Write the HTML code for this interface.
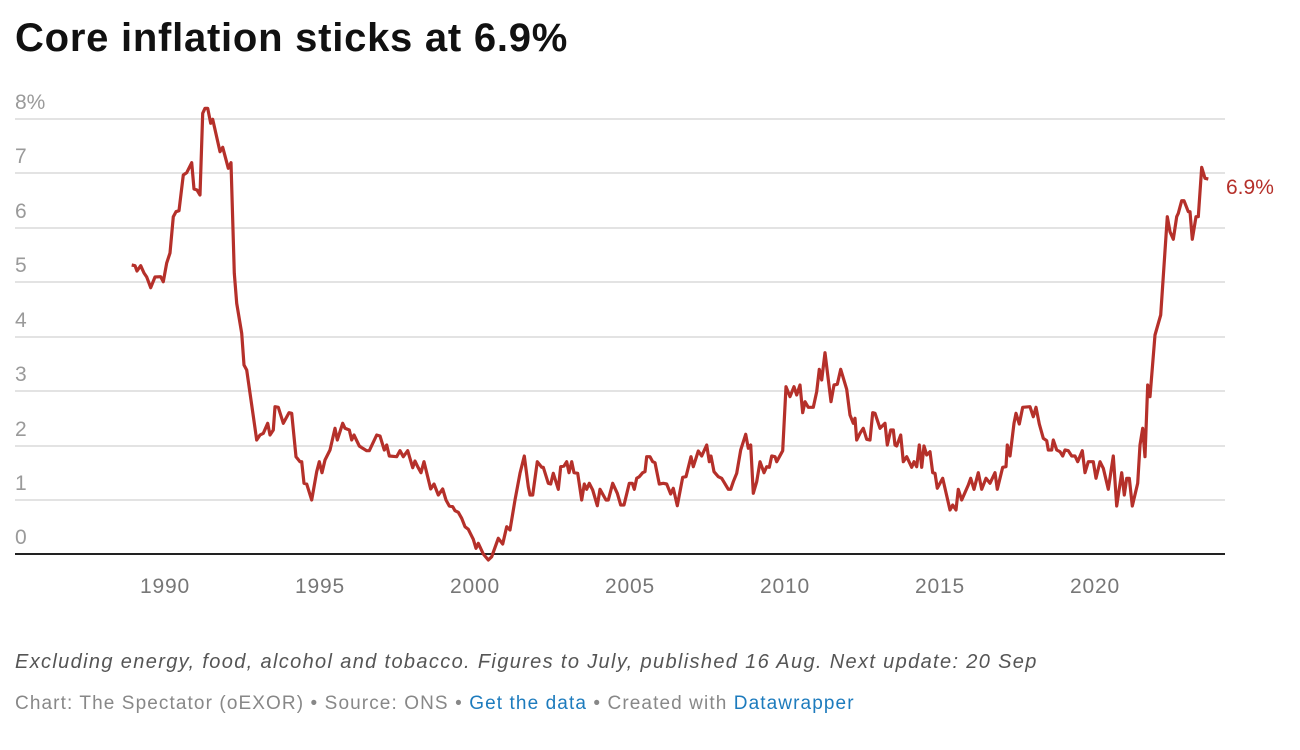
<!DOCTYPE html>
<html><head><meta charset="utf-8"><style>
body{margin:0;background:#fff;width:1300px;height:750px;overflow:hidden;font-family:"Liberation Sans",sans-serif;position:relative}
.t{position:absolute;left:15px;top:16px;font-size:40px;font-weight:bold;color:#111;letter-spacing:0.75px}
.n{position:absolute;left:15px;top:651px;font-size:20px;font-style:italic;color:#555;letter-spacing:1.35px;white-space:nowrap}
.s{position:absolute;left:15px;top:693px;font-size:19px;color:#888;letter-spacing:1.1px;white-space:nowrap}
.s a{color:#1d7bbd;text-decoration:none}
</style></head><body>
<div class="t">Core inflation sticks at 6.9%</div>
<svg width="1300" height="750" style="position:absolute;left:0;top:0">
<g stroke="#e3e3e3" stroke-width="2">
<line x1="15" x2="1225" y1="119" y2="119"/><line x1="15" x2="1225" y1="173" y2="173"/>
<line x1="15" x2="1225" y1="228" y2="228"/><line x1="15" x2="1225" y1="282" y2="282"/>
<line x1="15" x2="1225" y1="337" y2="337"/><line x1="15" x2="1225" y1="391" y2="391"/>
<line x1="15" x2="1225" y1="446" y2="446"/><line x1="15" x2="1225" y1="500" y2="500"/>
</g>
<line x1="15" x2="1225" y1="554" y2="554" stroke="#222" stroke-width="2"/>
<g font-size="21" fill="#9a9a9a">
<text x="15" y="109">8%</text><text x="15" y="163">7</text><text x="15" y="218">6</text>
<text x="15" y="272">5</text><text x="15" y="327">4</text><text x="15" y="381">3</text>
<text x="15" y="436">2</text><text x="15" y="490">1</text><text x="15" y="544">0</text>
</g>
<g font-size="21" fill="#777" text-anchor="middle" letter-spacing="0.8">
<text x="165" y="593">1990</text><text x="320" y="593">1995</text><text x="475" y="593">2000</text>
<text x="630" y="593">2005</text><text x="785" y="593">2010</text><text x="940" y="593">2015</text>
<text x="1095" y="593">2020</text>
</g>
<polyline fill="none" stroke="#b5302a" stroke-width="3.2" stroke-linejoin="round" points="
131.7,265 135,265.7 137,271 140.7,265.7 144,273 146.7,277 150.7,287.7 155,277 160.7,276.7 163.3,281.7 166.7,263 170,253 173.3,216.7 176,211.7 179,210.7 183.3,175 186.7,172.7 191.7,162.7 194,189 197,190 200,195 202.7,113.3 205,108.3 207.7,108.3 210.7,123.3 212.7,119.3 220,151.7 222.7,147.3 228.3,168.3 231,162.7 234.3,273.3 236.7,303.3 241.7,333.3 244,365 246.7,370 256.7,440 260,435 263.3,433.3 267.7,423.3 270,435 273.3,430 275,406.7 278.3,407.3 283.3,423.3 289,412.7 291.7,413.3 296,456.7 300,461.7 301.7,461.7 304,483.3 306.7,484 311.7,500 316.7,471.7 319.3,461.7 322,472.7 325,460 330,450 335,428.3 337.3,440 342.7,423.3 345,428.3 349.3,430 351.7,440 354,435 359.3,446 362.7,448.3 366.7,450.7 369.3,450.7 376.7,435 380,436 384.3,450 386.7,445 389.3,456 396.7,456.7 400,450.7 403.3,456.7 407.7,450.7 412.7,467.7 415,461 417.7,466.7 421,472.7 424,461.7 430.7,489 434,484 438.3,495 442.7,489 446,500 449.3,506 452.7,506.7 455,510.7 458.3,512.3 461.7,518.3 465,526.7 468.3,529.3 473.3,539.3 476,548.3 478.3,543.3 483.3,554 488.3,560 491.7,556.7 498.3,538.3 502.7,544 506.7,526.7 510,530 515,500 520,473.3 524.3,456 528.3,486.7 530,495 532.7,495 537.3,461.7 541.7,467.3 543.3,467.3 548.3,483.3 550.7,484 553.3,473.3 558.3,489.3 560.7,466.7 564,466 566.7,461.7 569,472.7 571.7,461.7 574,472.7 577.7,473.3 581.7,500 584.3,484 586.7,489.3 589.3,483.3 592.7,490 597.3,505.7 600,489.3 606,500 608.3,500 612.7,483.3 617.3,493.3 620.7,505 624,505 629.3,483.3 632.3,483.3 634.3,489.3 636.7,478.3 639.3,476.7 642.7,472.7 645,471.7 646.7,456.7 650,456.7 652.7,461.7 655,462.7 659.3,484 663.3,483.3 666.7,484 670.7,494 673.3,488.3 677.3,505.7 682.7,477.3 686,476.7 691,456.7 693.3,466.7 698.3,451 701.7,456 706.7,445 709.3,461.7 711,456 714,471.7 718.3,476.7 721.7,478.3 728.3,489.3 730.7,489.3 733.3,481.7 736.7,473.3 740.7,450 745.7,434.3 748.3,448.3 750.7,445 753.3,493.3 756.7,481.7 760,461.7 764,472.7 766.7,466.7 769.3,467.3 771.7,456 775,456.7 776.7,461.7 782.7,450.7 786,386.7 790,396.7 794,386.7 796.7,395 800,385 802.7,412.7 805,401.7 808.3,407.3 813.3,407.3 816.7,391.7 819.3,369.3 821.7,380 825,352.7 831,401.7 834,385 837.3,384.3 840.7,369.3 846.7,389.3 850,415 853.3,423.3 855,418.3 856.7,440 860,433.3 863.3,428.3 866.7,439.3 870,440 872.7,412.7 875,413.3 880,428.3 885,423.3 887.3,445 890.7,430 893.3,430 895,445 896.7,446 900.7,435 903.3,461.7 906.7,456.7 911.7,467.3 914,461.7 916.7,466.7 919.3,445 921.7,467.3 924,446 926.7,455 930,451.7 932.7,472.7 935,473.3 937.3,488.3 942.7,478.3 950,510 952.7,505 956,510 958.3,489.3 961.7,500 968.3,485 970.7,478.3 974,489.3 978.3,472.7 981.7,489.3 986,478.3 990,483.3 995,472.7 997.3,489.3 1002.7,467.3 1006,466.7 1007.3,445 1010,456 1014,423.3 1016,413.3 1019.3,424 1022.7,407.3 1030,406.7 1033.3,416.7 1036,407.3 1039.3,424 1043.3,438.3 1046.7,440.7 1048.3,450 1051.7,450 1053.3,440 1056.7,450 1060,451.7 1062.7,456 1065,450 1068.3,450.7 1071.7,456 1075,456 1077.7,461.7 1082.3,450.7 1085,472.7 1088.3,461.7 1093.3,461.7 1096,478.3 1100,461.7 1103.3,468.3 1108.3,489.3 1113.3,456 1116.7,506 1121.7,472.7 1124.3,495 1126.7,478.3 1129.3,478.3 1132.3,506 1137.7,483.3 1140,445 1142.7,428.3 1145,456.7 1147.7,385 1150,396.7 1155,335 1160.7,315 1167.3,216.7 1170,231.7 1173.3,239.3 1176.7,216.7 1178.3,213.3 1181.7,200.7 1184,200.7 1188.3,211.7 1190,211.7 1192.3,239.3 1196,216.7 1198.3,216.7 1201.7,167.3 1205,178.3 1208.3,179"/>
<text x="1226" y="194" font-size="21" fill="#b5302a">6.9%</text>
</svg>
<div class="n">Excluding energy, food, alcohol and tobacco. Figures to July, published 16 Aug. Next update: 20 Sep</div>
<div class="s">Chart: The Spectator (oEXOR) • Source: ONS • <a>Get the data</a> • Created with <a>Datawrapper</a></div>
</body></html>
